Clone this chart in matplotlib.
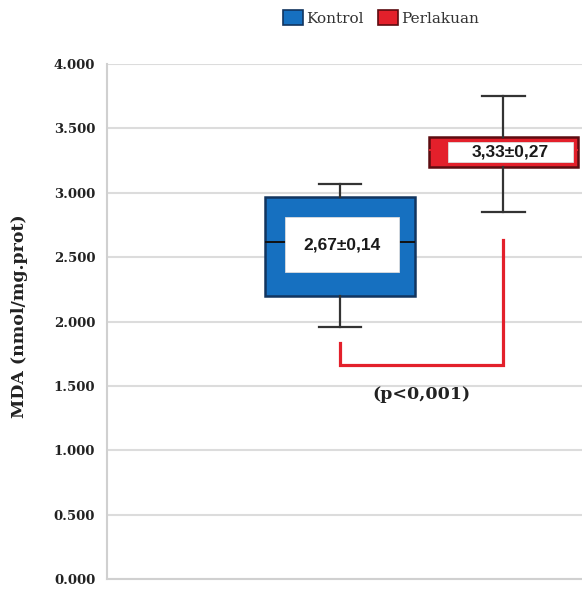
import matplotlib
matplotlib.use("Agg")
from matplotlib import pyplot as plt
from matplotlib.patches import Patch, Rectangle

groups = ["Kontrol", "Perlakuan"]
whislo = [1.96, 2.85]
q1 = [2.20, 3.20]
med = [2.62, 3.33]
q3 = [2.97, 3.43]
whishi = [3.07, 3.75]
labels = ["2,67±0,14", "3,33±0,27"]
label_lo = [2.385, 3.24]
label_hi = [2.81, 3.395]

yticks = [0, 0.5, 1, 1.5, 2, 2.5, 3, 3.5, 4]
yticklabels = ["0.000", "0.500", "1.000", "1.500", "2.000", "2.500", "3.000", "3.500", "4.000"]

# bracket between the two groups
brk_left_top = 1.83
brk_bottom = 1.66
brk_right_top = 2.63
p_text = "(p<0,001)"
p_y = 1.43

face = ["#1670c0", "#e3202b"]
edge = ["#12355f", "#5c0c10"]

fig = plt.figure(figsize=(5.82, 5.89), dpi=100)
ax = fig.add_axes([0.1838, 0.017, 0.8162, 0.8743])

pos = [0.4905, 0.834]
w = 0.314

stats = []
for i in range(2):
    stats.append(dict(whislo=whislo[i], q1=q1[i], med=med[i], q3=q3[i], whishi=whishi[i], label=groups[i]))

bp = ax.bxp(stats, positions=pos, widths=w, patch_artist=True, showfliers=False,
            capwidths=0.09,
            whiskerprops=dict(color="#333333", lw=1.6),
            capprops=dict(color="#333333", lw=1.6),
            medianprops=dict(color="#111111", lw=1.4),
            boxprops=dict(lw=1.8), zorder=3)
for i, b in enumerate(bp["boxes"]):
    b.set_facecolor(face[i])
    b.set_edgecolor(edge[i])
bp["medians"][1].set_color(face[1])

insets = [(0.042, 0.032), (0.04, 0.01)]
for i in range(2):
    x0 = pos[i] - w / 2 + insets[i][0]
    x1 = pos[i] + w / 2 - insets[i][1]
    ax.add_patch(Rectangle((x0, label_lo[i]), x1 - x0, label_hi[i] - label_lo[i],
                           facecolor="white", edgecolor="#dddddd", lw=0.6, zorder=5))
    ax.text((x0 + x1) / 2, (label_lo[i] + label_hi[i]) / 2, labels[i],
            ha="center", va="center", fontsize=12.5, fontweight="bold",
            family="Liberation Sans", color="#1a1a1a", zorder=6)

ax.plot([pos[0], pos[0], pos[1], pos[1]],
        [brk_left_top, brk_bottom, brk_bottom, brk_right_top],
        color="#e3202b", lw=2.3, zorder=4, solid_joinstyle="miter")
ax.text((pos[0] + pos[1]) / 2, p_y, p_text, ha="center", va="center",
        fontsize=12.5, fontweight="bold", family="DejaVu Serif", color="#222222")

ax.set_xlim(0, 1)
ax.set_ylim(0, 4)
ax.set_xticks([])
ax.set_yticks(yticks, yticklabels)
ax.tick_params(axis="y", length=0, pad=8.5)
for t in ax.get_yticklabels():
    t.set_family("DejaVu Serif")
    t.set_fontweight("bold")
    t.set_fontsize(9.5)
    t.set_color("#222222")
ax.grid(True, axis="y", color="#dcdcdc", lw=1.5, zorder=0)
ax.set_axisbelow(True)
for s in ["top", "right"]:
    ax.spines[s].set_visible(False)
for s in ["left", "bottom"]:
    ax.spines[s].set_color("#d0d0d0")
    ax.spines[s].set_linewidth(1.5)

ax.set_ylabel("MDA (nmol/mg.prot)", family="DejaVu Serif", fontweight="bold",
              fontsize=12.5, color="#222222")
ax.yaxis.set_label_coords(-0.166, 0.51)

handles = [Patch(facecolor=face[i], edgecolor=edge[i], lw=1.2, label=groups[i]) for i in range(2)]
leg = fig.legend(handles=handles, loc="center", bbox_to_anchor=(0.655, 0.969), ncol=2,
                 frameon=False, handlelength=1.3, handleheight=1.1, handletextpad=0.25,
                 columnspacing=0.9, prop={"family": "DejaVu Serif", "size": 11})
for t in leg.get_texts():
    t.set_color("#333333")

fig.savefig("out.png", dpi=100)
